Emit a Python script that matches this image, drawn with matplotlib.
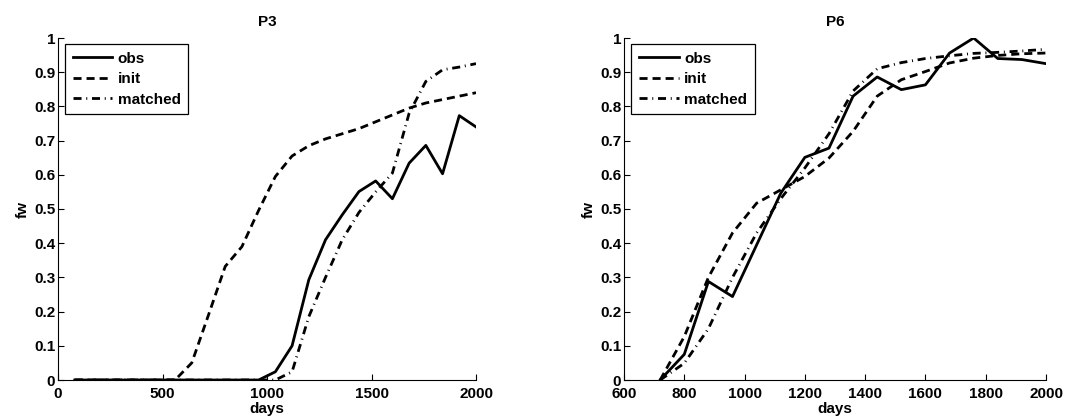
import matplotlib
matplotlib.use("Agg")
import matplotlib.pyplot as plt

plt.rcParams['font.family'] = ['Liberation Sans', 'DejaVu Sans']
plt.rcParams['font.weight'] = 'bold'

# ---- P3 data ----
p3_obs_days = [80, 160, 240, 320, 400, 480, 560, 640, 720, 800, 880, 960, 1040, 1120, 1200,
               1280, 1360, 1440, 1520, 1600, 1680, 1760, 1840, 1920, 2000]
p3_obs = [0, 0, 0, 0, 0, 0, 0, 0, 0, 0, 0, 0, 0.024, 0.10, 0.293,
          0.41, 0.483, 0.551, 0.582, 0.53, 0.634, 0.686, 0.603, 0.773, 0.74]
p3_init = [0, 0, 0, 0, 0, 0, 0, 0.05, 0.19, 0.332, 0.39, 0.496, 0.595, 0.655, 0.685,
           0.705, 0.72, 0.735, 0.755, 0.775, 0.795, 0.81, 0.82, 0.83, 0.84]
p3_matched = [0, 0, 0, 0, 0, 0, 0, 0, 0, 0, 0, 0, 0, 0.024, 0.185,
              0.30, 0.41, 0.49, 0.55, 0.605, 0.78, 0.873, 0.907, 0.915, 0.925]

# ---- P6 data ----
p6_days = [720, 800, 880, 960, 1040, 1120, 1200, 1280, 1360, 1440, 1520, 1600, 1680,
           1760, 1840, 1920, 2000]
p6_obs = [0, 0.075, 0.288, 0.244, 0.395, 0.546, 0.651, 0.678, 0.83, 0.886, 0.849, 0.863,
          0.956, 1.0, 0.94, 0.937, 0.925]
p6_init = [0, 0.127, 0.30, 0.43, 0.517, 0.556, 0.595, 0.649, 0.727, 0.83, 0.878, 0.902,
           0.927, 0.941, 0.949, 0.954, 0.956]
p6_matched = [0, 0.049, 0.15, 0.30, 0.43, 0.53, 0.62, 0.72, 0.845, 0.91, 0.928, 0.94,
              0.948, 0.955, 0.958, 0.962, 0.967]

labels = ['obs', 'init', 'matched']

fig = plt.figure(figsize=(10.78, 4.17), dpi=100)
W, H = 1078, 417
ax1 = fig.add_axes([58 / W, 1 - 380 / H, (476 - 58) / W, (380 - 38) / H])
ax2 = fig.add_axes([624 / W, 1 - 380 / H, (1046 - 624) / W, (380 - 38) / H])

FS = 11
lw = 2.0
styles = [dict(linestyle='-'),
          dict(linestyle=(0, (2.9, 1.8))),
          dict(linestyle=(0, (2.9, 1.7, 0.35, 1.7)))]

def draw(ax, xs, ys_list, title, xlim, xticks):
    for ys, st, lab in zip(ys_list, styles, labels):
        ax.plot(xs, ys, color='black', lw=lw, label=lab, **st)
    ax.set_xlim(*xlim)
    ax.set_ylim(0, 1)
    ax.set_xticks(xticks)
    ax.set_xticklabels([str(t) for t in xticks])
    yt = [i / 10 for i in range(11)]
    ax.set_yticks(yt)
    ax.set_yticklabels(['0'] + ['%.1f' % v for v in yt[1:-1]] + ['1'])
    ax.tick_params(direction='in', length=4, width=0.8, labelsize=FS)
    ax.tick_params(axis='x', pad=5)
    ax.tick_params(axis='y', pad=2)
    for s in ['top', 'right']:
        ax.spines[s].set_visible(False)
    ax.set_title(title, fontsize=FS, fontweight='bold', pad=9)
    ax.set_xlabel('days', fontsize=FS, fontweight='bold', labelpad=1)
    ax.set_ylabel('fw', fontsize=FS, fontweight='bold', labelpad=3)
    leg = ax.legend(loc='upper left', bbox_to_anchor=(0.017, 0.982), fancybox=False,
                    edgecolor='black', framealpha=1, fontsize=FS, handlelength=2.6,
                    handletextpad=0.35, borderpad=0.5, labelspacing=0.42, borderaxespad=0)
    leg.get_frame().set_linewidth(0.9)

draw(ax1, p3_obs_days, [p3_obs, p3_init, p3_matched], 'P3', (0, 2000), [0, 500, 1000, 1500, 2000])
draw(ax2, p6_days, [p6_obs, p6_init, p6_matched], 'P6', (600, 2000),
     [600, 800, 1000, 1200, 1400, 1600, 1800, 2000])

fig.savefig('out.png', dpi=100)
